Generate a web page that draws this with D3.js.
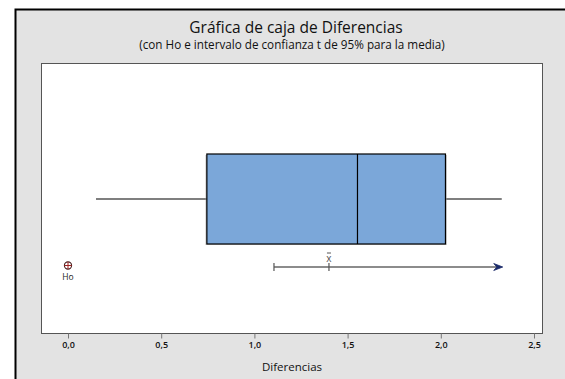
<!DOCTYPE html>
<html>
<head>
<meta charset="utf-8">
<script src="https://cdn.jsdelivr.net/npm/d3@7/dist/d3.min.js"></script>
<style>
  html, body { margin: 0; padding: 0; background: #ffffff; }
  svg { display: block; font-family: "Open Sans", "Noto Sans", sans-serif; }
</style>
</head>
<body>
<svg id="chart" width="565" height="379"></svg>
<script>
// Box plot of the differences, with H0 and a 95% t confidence bound for the mean
const variableName = "Diferencias";
const boxStats = { whiskerLow: 0.15, q1: 0.745, median: 1.553, q3: 2.025, whiskerHigh: 2.327 };
const meanValue = 1.40;
const ciLower = 1.105;
const h0Value = 0.0;
const tickValues = [0.0, 0.5, 1.0, 1.5, 2.0, 2.5];
const tickLabels = ["0,0", "0,5", "1,0", "1,5", "2,0", "2,5"];

const svg = d3.select("#chart");
const W = 565, H = 379;

// Outer panel
svg.append("rect").attr("x", 15.5).attr("y", 9.5).attr("width", W).attr("height", H)
  .attr("fill", "#e3e3e3").attr("stroke", "#000").attr("stroke-width", 2);

const plot = { left: 41.5, top: 63.5, right: 542.5, bottom: 333.5 };
svg.append("rect").attr("x", plot.left).attr("y", plot.top)
  .attr("width", plot.right - plot.left).attr("height", plot.bottom - plot.top)
  .attr("fill", "#fff").attr("stroke", "#555").attr("stroke-width", 1);

const x = d3.scaleLinear().domain([0, 2.5]).range([68, 534]);
const cx = (plot.left + plot.right) / 2;

// Titles
svg.append("text").attr("x", cx + 4).attr("y", 33).attr("text-anchor", "middle")
  .attr("font-size", 15.5).attr("fill", "#111").text("Gráfica de caja de Diferencias");
svg.append("text").attr("x", cx).attr("y", 49).attr("text-anchor", "middle")
  .attr("font-size", 11.7).attr("fill", "#111").text("(con Ho e intervalo de confianza t de 95% para la media)");

// Axis
const axis = d3.axisBottom(x).tickValues(tickValues)
  .tickFormat((d, i) => tickLabels[i]).tickSize(5).tickPadding(3);
const gAxis = svg.append("g").attr("transform", `translate(0,${plot.bottom})`).call(axis);
gAxis.select(".domain").remove();
gAxis.selectAll(".tick line").attr("stroke", "#777");
gAxis.selectAll(".tick text").attr("font-size", 9).attr("fill", "#111")
  .attr("font-weight", 600).attr("font-family", "'Open Sans', sans-serif");

svg.append("text").attr("x", cx).attr("y", 371).attr("text-anchor", "middle")
  .attr("font-size", 11.5).attr("fill", "#111").text(variableName);

// Box plot
const yBox = d3.scaleBand().domain([variableName]).range([154, 244]).padding(0);
const bTop = yBox(variableName), bH = yBox.bandwidth(), yMid = bTop + bH / 2;

svg.append("line").attr("x1", x(boxStats.whiskerLow)).attr("x2", x(boxStats.q1))
  .attr("y1", yMid).attr("y2", yMid).attr("stroke", "#000").attr("stroke-width", 1.2);
svg.append("line").attr("x1", x(boxStats.q3)).attr("x2", x(boxStats.whiskerHigh))
  .attr("y1", yMid).attr("y2", yMid).attr("stroke", "#000").attr("stroke-width", 1.2);
// soft shadow on the box
svg.append("rect").attr("x", x(boxStats.q1) - 1.5).attr("y", bTop + 1)
  .attr("width", x(boxStats.q3) - x(boxStats.q1) + 3).attr("height", bH)
  .attr("fill", "#9a9a9a").attr("opacity", 0.5);
svg.append("rect").attr("x", x(boxStats.q1)).attr("y", bTop)
  .attr("width", x(boxStats.q3) - x(boxStats.q1)).attr("height", bH)
  .attr("fill", "#7ba7d9").attr("stroke", "#000").attr("stroke-width", 1.2);
svg.append("line").attr("x1", x(boxStats.median)).attr("x2", x(boxStats.median))
  .attr("y1", bTop).attr("y2", bTop + bH).attr("stroke", "#000").attr("stroke-width", 1.2);

// Confidence bound for the mean
const yCI = 267;
svg.append("line").attr("x1", x(ciLower)).attr("x2", x(boxStats.whiskerHigh) - 4)
  .attr("y1", yCI).attr("y2", yCI).attr("stroke", "#666").attr("stroke-width", 1.4);
svg.append("line").attr("x1", x(ciLower)).attr("x2", x(ciLower))
  .attr("y1", yCI - 4).attr("y2", yCI + 4).attr("stroke", "#555").attr("stroke-width", 1.2);
svg.append("line").attr("x1", x(meanValue)).attr("x2", x(meanValue))
  .attr("y1", yCI - 4).attr("y2", yCI + 4).attr("stroke", "#555").attr("stroke-width", 1.2);
const ax = x(boxStats.whiskerHigh) + 1;
svg.append("path")
  .attr("d", `M${ax},${yCI} L${ax - 9},${yCI - 3.5} L${ax - 6},${yCI} L${ax - 9},${yCI + 3.5} Z`)
  .attr("fill", "#1a2a6a").attr("stroke", "#1a2a6a").attr("stroke-width", 0.8);
svg.append("text").attr("x", x(meanValue)).attr("y", yCI - 5).attr("text-anchor", "middle")
  .attr("font-size", 10).attr("fill", "#555").text("x");
svg.append("line").attr("x1", x(meanValue) - 2).attr("x2", x(meanValue) + 2)
  .attr("y1", yCI - 14).attr("y2", yCI - 14).attr("stroke", "#555").attr("stroke-width", 1);

// H0 marker
const hx = x(h0Value), hy = 265.5;
svg.append("circle").attr("cx", hx).attr("cy", hy).attr("r", 3.6)
  .attr("fill", "none").attr("stroke", "#4a2020").attr("stroke-width", 1.1);
svg.append("line").attr("x1", hx - 3.6).attr("x2", hx + 3.6).attr("y1", hy).attr("y2", hy)
  .attr("stroke", "#a02020").attr("stroke-width", 1);
svg.append("line").attr("x1", hx).attr("x2", hx).attr("y1", hy - 3.6).attr("y2", hy + 3.6)
  .attr("stroke", "#a02020").attr("stroke-width", 1);
svg.append("text").attr("x", hx).attr("y", 280).attr("text-anchor", "middle")
  .attr("font-size", 8.5).attr("fill", "#222").text("Ho");
</script>
</body>
</html>
